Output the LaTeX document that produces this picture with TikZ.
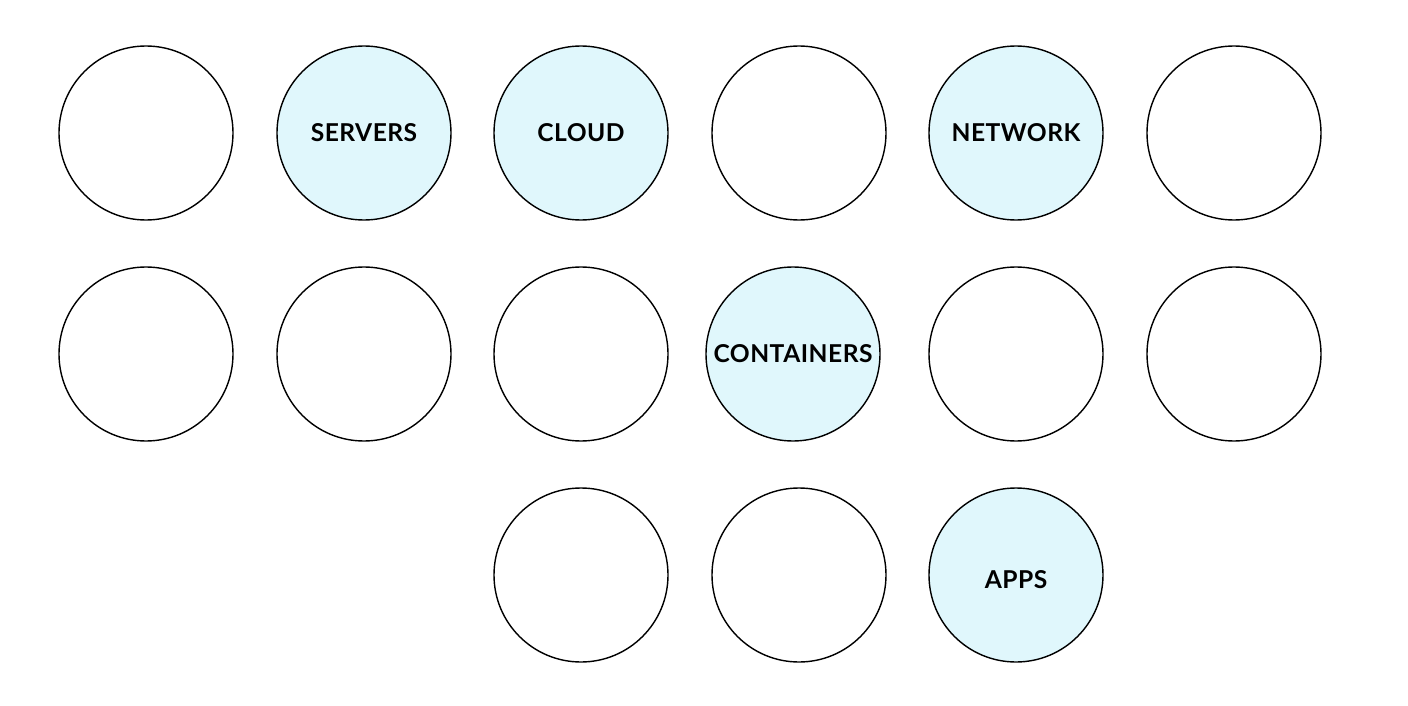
\documentclass[tikz,border=0pt]{standalone}
\usepackage{fontspec}
\newfontfamily\topicfont{Lato}[LetterSpace=2]
\usepackage{tikz}
\usetikzlibrary{positioning}
\definecolor{topicfill}{RGB}{224,247,252}
\tikzset{
    blob/.style={circle, draw=black, line width=0.8pt, fill=white, minimum size=3.48cm, inner sep=0pt},
    topic/.style={blob, fill=topicfill, font=\topicfont\bfseries\fontsize{14}{16}\selectfont},
}

\begin{document}
\begin{tikzpicture}
    \useasboundingbox (0,0) rectangle (28.16,14.1);

    % Top row
    \node[blob]  (r1a) at (2.92,11.44) {};
    \node[topic] (servers) at (7.28,11.44) {SERVERS};
    \node[topic] (cloud) at (11.62,11.44) {CLOUD};
    \node[blob]  (r1d) at (15.98,11.44) {};
    \node[topic] (network) at (20.32,11.44) {NETWORK};
    \node[blob]  (r1f) at (24.68,11.44) {};

    % Middle row
    \node[blob]  (r2a) at (2.92,7.02) {};
    \node[blob]  (r2b) at (7.28,7.02) {};
    \node[blob]  (r2c) at (11.62,7.02) {};
    \node[topic] (containers) at (15.86,7.02) {CONTAINERS};
    \node[blob]  (r2e) at (20.32,7.02) {};
    \node[blob]  (r2f) at (24.68,7.02) {};

    % Bottom row
    \node[blob]  (r3a) at (11.62,2.6) {};
    \node[blob]  (r3b) at (15.98,2.6) {};
    \node[topic] (apps) at (20.32,2.6) {};
    \node[font=\topicfont\bfseries\fontsize{14}{16}\selectfont] (appslabel) at ([yshift=-0.1cm]apps.center) {APPS};
\end{tikzpicture}
\end{document}
